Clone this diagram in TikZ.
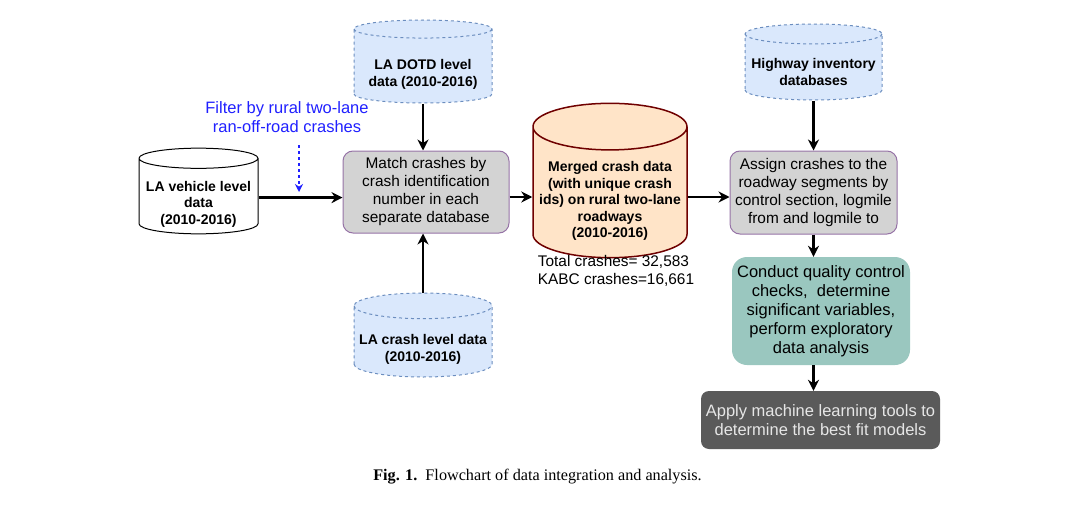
\documentclass[tikz,border=0pt]{standalone}
\usepackage{fontspec}
\setmainfont{Liberation Sans}
\newfontfamily\capfont{Liberation Serif}
\usetikzlibrary{shapes.geometric,arrows.meta}
\definecolor{dbfill}{HTML}{DAE8FC}
\definecolor{dbline}{HTML}{6C8EBF}
\definecolor{mgfill}{HTML}{FFE4C8}
\definecolor{mgline}{HTML}{6F0000}
\definecolor{grfill}{HTML}{D3D3D3}
\definecolor{grline}{HTML}{9673A6}
\definecolor{tlfill}{HTML}{9AC7BF}
\definecolor{dkfill}{HTML}{5A5A5A}
\definecolor{dktext}{HTML}{E6E6E6}
\definecolor{fltext}{HTML}{2020FF}
\begin{document}
\begin{tikzpicture}[x=1pt,y=-1pt,
	txt/.style={font=\fontsize{15.4}{18}\selectfont,align=center},
	big/.style={font=\fontsize{16.5}{19}\selectfont,align=center},
	cyl/.style={cylinder,shape border rotate=90,anchor=shape center,inner sep=2pt,align=center,line width=1pt,font=\bfseries\fontsize{14}{16.5}\selectfont},
	db/.style={cyl,fill=dbfill,draw=dbline,dashed},
	drop/.style 2 args={text height=#1,text depth=#2},
	box/.style={txt,rounded corners=10pt,fill=grfill,draw=grline,line width=1pt,minimum width=166pt,minimum height=82pt},
	ar/.style={-{Stealth[length=11pt,width=11pt]},line width=2.2pt}]
	\useasboundingbox (0,0) rectangle (1087,519);
	\node(v)[cyl,draw=black,fill=white,drop={53.5pt}{-7.3pt},minimum width=119pt,minimum height=82pt,aspect=0.185] at (198.5,191) {LA vehicle level\\data\\(2010-2016)};
	\node(d)[db,drop={37.5pt}{-7.8pt},minimum width=138pt,minimum height=83pt,aspect=0.16] at (423,61.5) {LA DOTD level\\data (2010-2016)};
	\node(c)[db,drop={35.7pt}{-6pt},minimum width=138pt,minimum height=84pt,aspect=0.195] at (423,335) {LA crash level data\\(2010-2016)};
	\node(h)[db,drop={34pt}{-7.3pt},minimum width=137pt,minimum height=76pt,aspect=0.155] at (813.5,62) {Highway inventory\\databases};
	\node(f)[big,text=fltext] at (287,117) {Filter by rural two-lane\\ran-off-road crashes};
	\node(m)[box] at (426,192) {Match crashes by\\crash identification\\number in each\\separate database};
	\node(g)[cyl,draw=mgline,fill=mgfill,line width=1.5pt,drop={85pt}{-5.8pt},minimum width=154pt,minimum height=145pt,aspect=0.32] at (610,180.5) {Merged crash data\\(with unique crash\\ids) on rural two-lane\\roadways\\(2010-2016)};
	\node(t)[txt,align=left] at (616,271) {Total crashes= 32,583\\KABC crashes=16,661};
	\node(a)[box,minimum width=167pt,minimum height=83pt] at (813.5,192.5) {Assign crashes to the\\roadway segments by\\control section, logmile\\from and logmile to};
	\node(q)[big,rounded corners=15pt,fill=tlfill,minimum width=178pt,minimum height=108pt] at (821,311) {Conduct quality control\\checks, \ determine\\significant variables,\\perform exploratory\\data analysis};
	\node(p)[big,text=dktext,rounded corners=8pt,fill=dkfill,minimum width=239pt,minimum height=58pt] at (820.5,420) {Apply machine learning tools to\\determine the best fit models};
	\node(cap) at (537.5,477) {\capfont\fontsize{16.2}{19}\selectfont\textbf{Fig. 1.}\enspace Flowchart of data integration and analysis.};
	\coordinate(fi) at (299,192);
	\draw[ar] (v.east) -- (v.east -| m.west);
	\draw[-{Stealth[length=8pt,width=8pt]},fltext,line width=1.2pt,dash pattern=on 3pt off 3pt] ([yshift=-9pt]f.south -| fi) -- (fi);
	\draw[ar] (d.south) -- (d.south |- m.north);
	\draw[ar] (c.north) -- (c.north |- m.south);
	\draw[ar] ([yshift=-5pt]m.east) -- ([yshift=-5pt]m.east -| g.west);
	\draw[ar] ([yshift=-5pt]m.east -| g.east) -- ([yshift=-5pt]m.east -| a.west);
	\draw[ar] (h.south) -- (h.south |- a.north);
	\draw[ar] (a.south) -- (a.south |- q.north);
	\draw[ar] (a.south |- q.south) -- (a.south |- p.north);
\end{tikzpicture}
\end{document}
